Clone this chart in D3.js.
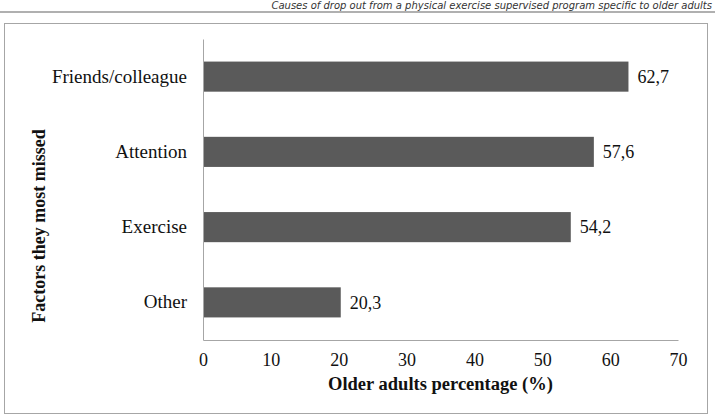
<!DOCTYPE html>
<html>
<head>
<meta charset="utf-8">
<script src="https://cdn.jsdelivr.net/npm/d3@7"></script>
<style>
  body { margin: 0; background: #fff; }
  svg { display: block; }
</style>
</head>
<body>
<div class="chart"></div>
<script>
var svgWidth = 715;
var svgHeight = 416;

// data
var categories = ["Friends/colleague", "Attention", "Exercise", "Other"];
var values = [62.7, 57.6, 54.2, 20.3];
var valueLabels = ["62,7", "57,6", "54,2", "20,3"];
var xTicks = [0, 10, 20, 30, 40, 50, 60, 70];

var margin = { top: 39, right: 37, bottom: 76, left: 203 };
var width = svgWidth - margin.left - margin.right;
var height = svgHeight - margin.top - margin.bottom;

var serif = "'Liberation Serif', 'Times New Roman', serif";

var svg = d3.select(".chart")
  .append("svg")
  .attr("width", svgWidth)
  .attr("height", svgHeight);

// header strip
svg.append("text")
  .attr("x", 712)
  .attr("y", 8.5)
  .attr("text-anchor", "end")
  .style("font-family", "'DejaVu Sans', sans-serif")
  .style("font-size", "10px")
  .style("font-style", "italic")
  .style("fill", "#333")
  .text("Causes of drop out from a physical exercise supervised program specific to older adults");

svg.append("rect")
  .attr("x", 0).attr("y", 11)
  .attr("width", svgWidth).attr("height", 2)
  .attr("fill", "#b0b0b0");

// outer frame
svg.append("rect")
  .attr("x", 4.5).attr("y", 23.5)
  .attr("width", 703).attr("height", 390)
  .attr("fill", "none")
  .attr("stroke", "#a6a6a6")
  .attr("stroke-width", 1);

var chartGroup = svg.append("g")
  .attr("transform", `translate(${margin.left}, ${margin.top})`);

var xScale = d3.scaleLinear()
  .domain([0, 70])
  .range([0, width]);

var yScale = d3.scaleBand()
  .domain(categories)
  .range([0, height])
  .paddingInner(0.6)
  .paddingOuter(0.3);

// bars
chartGroup.selectAll("rect.bar")
  .data(categories)
  .enter()
  .append("rect")
  .attr("class", "bar")
  .attr("x", 0)
  .attr("y", d => yScale(d))
  .attr("width", (d, i) => xScale(values[i]))
  .attr("height", yScale.bandwidth())
  .attr("fill", "#5a5a5a");

// value labels
chartGroup.selectAll("text.val")
  .data(categories)
  .enter()
  .append("text")
  .attr("class", "val")
  .attr("x", (d, i) => xScale(values[i]) + 9)
  .attr("y", d => yScale(d) + yScale.bandwidth() / 2)
  .attr("dy", "0.35em")
  .style("font-family", serif)
  .style("font-size", "18px")
  .style("fill", "#111")
  .text((d, i) => valueLabels[i]);

// x axis
var bottomAxis = d3.axisBottom(xScale)
  .tickValues(xTicks)
  .tickSize(0)
  .tickPadding(13);

var xAxis = chartGroup.append("g")
  .attr("transform", `translate(0, ${height})`)
  .call(bottomAxis);

xAxis.select(".domain").attr("stroke", "#a6a6a6");
xAxis.selectAll("text")
  .style("font-family", serif)
  .style("font-size", "18px")
  .style("fill", "#111");

// y axis
var leftAxis = d3.axisLeft(yScale)
  .tickSize(0)
  .tickPadding(16);

var yAxis = chartGroup.append("g")
  .call(leftAxis);

yAxis.select(".domain").attr("stroke", "#a6a6a6");
yAxis.selectAll("text")
  .style("font-family", serif)
  .style("font-size", "19px")
  .style("fill", "#111");

// axis titles
chartGroup.append("text")
  .attr("x", width / 2)
  .attr("y", height + 50)
  .attr("text-anchor", "middle")
  .style("font-family", serif)
  .style("font-size", "18.5px")
  .style("font-weight", "bold")
  .style("fill", "#111")
  .text("Older adults percentage (%)");

chartGroup.append("text")
  .attr("transform", "rotate(-90)")
  .attr("x", -(226 - margin.top))
  .attr("y", 45 - margin.left)
  .attr("text-anchor", "middle")
  .style("font-family", serif)
  .style("font-size", "18px")
  .style("font-weight", "bold")
  .style("fill", "#111")
  .text("Factors they most missed");
</script>
</body>
</html>
